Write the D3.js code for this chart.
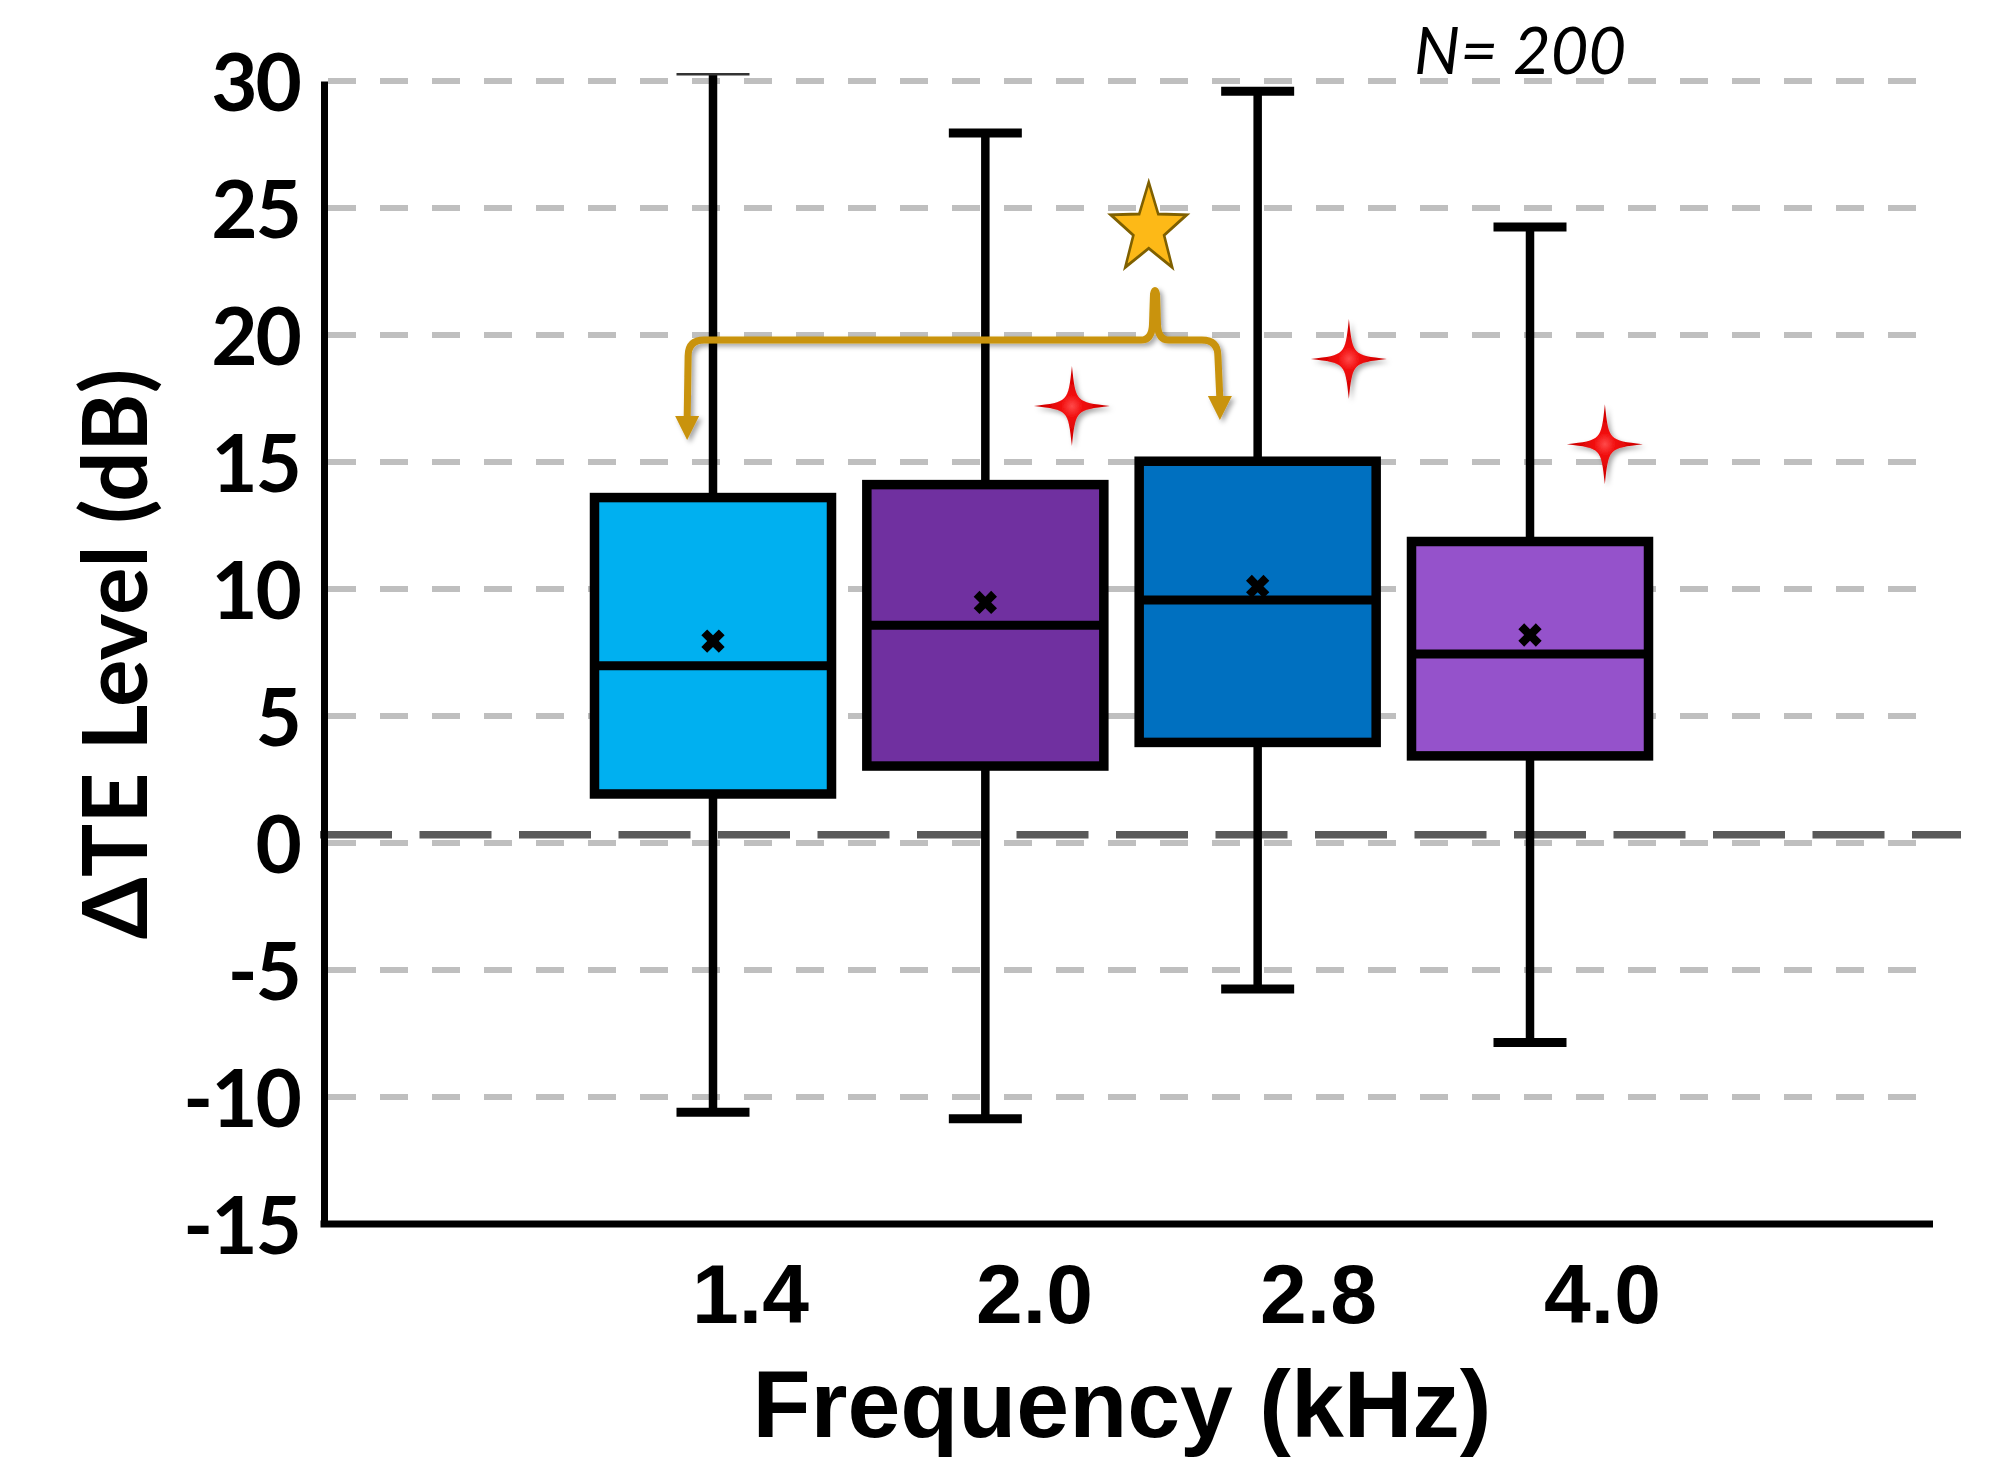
<!DOCTYPE html>
<html>
<head>
<meta charset="utf-8">
<script src="https://cdn.jsdelivr.net/npm/d3@7"></script>
<style>
  html, body { margin: 0; padding: 0; background: #fff; }
  svg { display: block; }
</style>
</head>
<body>
<svg id="chart" width="2010" height="1466"></svg>
<script>
// ---- data (dB) ----
const freqLabels  = ['1.4', '2.0', '2.8', '4.0'];
const boxColors   = ['#00B0F0', '#7030A0', '#0070C0', '#9552CB'];
const whiskerLow  = [-10.6, -10.86, -5.75, -7.85];
const quart1      = [1.93, 3.03, 3.96, 3.43];
const medians     = [6.98, 8.57, 9.57, 7.44];
const quart3      = [13.6, 14.11, 15.03, 11.87];
const whiskerHigh = [30.27, 27.95, 29.6, 24.25];
const means       = [7.95, 9.47, 10.1, 8.19];

const yTicks     = [30, 25, 20, 15, 10, 5, 0, -5, -10, -15];
const gridValues = [30, 25, 20, 15, 10, 5, 0, -5, -10];
const refLevel   = 0.32;           // dark dashed reference line

// annotations, x in category-index units
const sparkleX = [1.318, 2.335, 3.275];
const sparkleY = [17.2, 19.06, 15.7];
const starX = 1.60, starY = 24.16;
const bracketX = [-0.095, 1.623, 1.854];        // left end, peak, right end
const bracketY = [19.8, 21.77, 15.87, 16.65];   // bar, peak, left tip, right tip

const svg = d3.select('#chart');

const y  = d3.scaleLinear().domain([-15, 30]).range([1224, 81]);
const x  = d3.scalePoint().domain(freqLabels).range([713, 1530]);
const xi = d3.scaleLinear().domain([0, 3]).range([713, 1530]);
const xLab = d3.scalePoint().domain(freqLabels).range([750, 1602]);

const axisX = 324, plotRight = 1933;
const boxW = 246, capW = 73;

// ---- defs ----
const defs = svg.append('defs');
const shadow = defs.append('filter').attr('id', 'shadow')
  .attr('x', '-40%').attr('y', '-40%').attr('width', '180%').attr('height', '180%');
shadow.append('feDropShadow').attr('dx', 3).attr('dy', 3)
  .attr('stdDeviation', 2.5).attr('flood-color', '#000').attr('flood-opacity', 0.35);
const rg = defs.append('radialGradient').attr('id', 'sparkleFill');
rg.append('stop').attr('offset', '0%').attr('stop-color', '#ff4a4a');
rg.append('stop').attr('offset', '30%').attr('stop-color', '#f00a0a');
rg.append('stop').attr('offset', '100%').attr('stop-color', '#c40000');

// ---- gridlines ----
svg.append('g').selectAll('line').data(gridValues).join('line')
  .attr('x1', axisX + 4).attr('x2', plotRight)
  .attr('y1', d => y(d)).attr('y2', d => y(d))
  .attr('stroke', '#BFBFBF').attr('stroke-width', 6)
  .attr('stroke-dasharray', '28 24');

// dark reference line near zero
svg.append('line')
  .attr('x1', axisX - 4).attr('x2', 1961)
  .attr('y1', y(refLevel)).attr('y2', y(refLevel))
  .attr('stroke', '#595959').attr('stroke-width', 7.5)
  .attr('stroke-dasharray', '72 27.5');

// ---- boxes ----
const idx = d3.range(freqLabels.length);
const boxes = svg.append('g').selectAll('g').data(idx).join('g')
  .attr('transform', i => `translate(${x(freqLabels[i])},0)`);

// whiskers
boxes.append('line')
  .attr('x1', 0).attr('x2', 0)
  .attr('y1', i => y(whiskerHigh[i])).attr('y2', i => y(whiskerLow[i]))
  .attr('stroke', '#000').attr('stroke-width', 8.5);
boxes.append('line')   // top caps (the first one is drawn hairline in the figure)
  .attr('x1', -capW / 2).attr('x2', capW / 2)
  .attr('y1', i => y(whiskerHigh[i])).attr('y2', i => y(whiskerHigh[i]))
  .attr('stroke', i => i === 0 ? '#333' : '#000')
  .attr('stroke-width', i => i === 0 ? 2.5 : 9);
boxes.append('line')
  .attr('x1', -capW / 2).attr('x2', capW / 2)
  .attr('y1', i => y(whiskerLow[i])).attr('y2', i => y(whiskerLow[i]))
  .attr('stroke', '#000').attr('stroke-width', 9);

boxes.append('rect')
  .attr('x', -boxW / 2 + 4.5).attr('width', boxW - 9)
  .attr('y', i => y(quart3[i])).attr('height', i => y(quart1[i]) - y(quart3[i]))
  .attr('fill', i => boxColors[i])
  .attr('stroke', '#000').attr('stroke-width', 9.5);

boxes.append('line')
  .attr('x1', -boxW / 2 + 4.5).attr('x2', boxW / 2 - 4.5)
  .attr('y1', i => y(medians[i])).attr('y2', i => y(medians[i]))
  .attr('stroke', '#000').attr('stroke-width', 9);

const meanSym = d3.symbol().type(d3.symbolCross).size(340);
boxes.append('path')
  .attr('d', meanSym)
  .attr('transform', i => `translate(0,${y(means[i])}) rotate(45)`)
  .attr('fill', '#000');

// ---- axes ----
const yAxis = d3.axisLeft(y).tickValues(yTicks).tickSize(0).tickPadding(24)
  .tickFormat(d => String(d));
const gy = svg.append('g').attr('transform', `translate(${axisX},0)`).call(yAxis);
gy.select('.domain').attr('stroke', '#000').attr('stroke-width', 7);
gy.selectAll('text')
  .attr('dy', '0.37em')
  .style('font-family', 'Lato, "Open Sans", sans-serif')
  .style('font-weight', 700).style('font-size', '80px')
  .style('letter-spacing', '-2px').attr('fill', '#000');

svg.append('line')
  .attr('x1', axisX - 3.5).attr('x2', plotRight)
  .attr('y1', y(-15)).attr('y2', y(-15))
  .attr('stroke', '#000').attr('stroke-width', 7);

const xAxis = d3.axisBottom(xLab).tickSize(0);
const gx = svg.append('g').attr('transform', `translate(0,${y(-15)})`).call(xAxis);
gx.select('.domain').remove();
gx.selectAll('text')
  .attr('y', 99).attr('dy', 0)
  .style('font-family', '"Liberation Sans", Arial, sans-serif')
  .style('font-weight', 700).style('font-size', '84px').attr('fill', '#000');

// axis titles
svg.append('text')
  .attr('x', 1122).attr('y', 1437).attr('text-anchor', 'middle')
  .style('font-family', '"Liberation Sans", Arial, sans-serif')
  .style('font-weight', 700).style('font-size', '95px')
  .text('Frequency (kHz)');

svg.append('text')
  .attr('transform', 'translate(147,654) rotate(-90)')
  .attr('text-anchor', 'middle')
  .style('font-family', 'Lato, "Open Sans", sans-serif')
  .style('font-weight', 700).style('font-size', '89px')
  .text('\u0394TE Level (dB)');

svg.append('text')
  .attr('x', 1414).attr('y', 74)
  .style('font-family', 'Lato, "Open Sans", sans-serif')
  .style('font-style', 'italic').style('font-size', '65px')
  .text('N= 200');

// ---- significance bracket ----
const gold = '#C9930A';
const bx0 = xi(bracketX[0]), bm = xi(bracketX[1]), bx1 = xi(bracketX[2]);
const yl = y(bracketY[0]), yp = y(bracketY[1]), yt0 = y(bracketY[2]), yt1 = y(bracketY[3]);
const bp = d3.path();
bp.moveTo(bx0, yt0 - 20);
bp.lineTo(bx0 + 1, yl + 16);
bp.quadraticCurveTo(bx0 + 1, yl, bx0 + 17, yl);
bp.lineTo(bm - 14, yl);
bp.quadraticCurveTo(bm - 3, yl, bm - 2.5, yl - 16);
bp.lineTo(bm - 1.5, yp + 4);
bp.quadraticCurveTo(bm, yp - 3, bm + 1.5, yp + 4);
bp.lineTo(bm + 2.5, yl - 16);
bp.quadraticCurveTo(bm + 3, yl, bm + 14, yl);
bp.lineTo(bx1 - 16, yl);
bp.quadraticCurveTo(bx1, yl, bx1, yl + 16);
bp.lineTo(bx1 + 2, yt1 - 20);
const bracketG = svg.append('g').attr('filter', 'url(#shadow)');
bracketG.append('path').attr('d', bp.toString())
  .attr('fill', 'none').attr('stroke', gold).attr('stroke-width', 7)
  .attr('stroke-linejoin', 'round');
bracketG.selectAll('path.tip').data([[bx0, yt0], [bx1 + 2, yt1]]).join('path')
  .attr('class', 'tip')
  .attr('d', d => `M${d[0]},${d[1]}L${d[0] - 12},${d[1] - 24}L${d[0] + 12},${d[1] - 24}Z`)
  .attr('fill', gold);

// ---- gold star ----
const starR = 47, starr = 19;
const starPts = d3.range(10).map(k => [k * Math.PI / 5, k % 2 ? starr : starR]);
svg.append('path')
  .attr('d', d3.lineRadial().curve(d3.curveLinearClosed)(starPts))
  .attr('transform', `translate(${xi(starX)},${y(starY)}) scale(0.85,1)`)
  .attr('fill', '#FDB917').attr('stroke', '#7F6000').attr('stroke-width', 3)
  .attr('stroke-linejoin', 'miter');

// ---- red sparkles ----
function sparklePath(rx, ry) {
  const p = d3.path(), k = 0.1;
  p.moveTo(0, -ry);
  p.bezierCurveTo(k * rx, -k * ry, k * rx, -k * ry, rx, 0);
  p.bezierCurveTo(k * rx, k * ry, k * rx, k * ry, 0, ry);
  p.bezierCurveTo(-k * rx, k * ry, -k * rx, k * ry, -rx, 0);
  p.bezierCurveTo(-k * rx, -k * ry, -k * rx, -k * ry, 0, -ry);
  p.closePath();
  return p.toString();
}
svg.append('g').attr('filter', 'url(#shadow)')
  .selectAll('path').data(d3.range(sparkleX.length)).join('path')
  .attr('d', sparklePath(38, 40))
  .attr('transform', i => `translate(${xi(sparkleX[i])},${y(sparkleY[i])})`)
  .attr('fill', 'url(#sparkleFill)');
</script>
</body>
</html>
